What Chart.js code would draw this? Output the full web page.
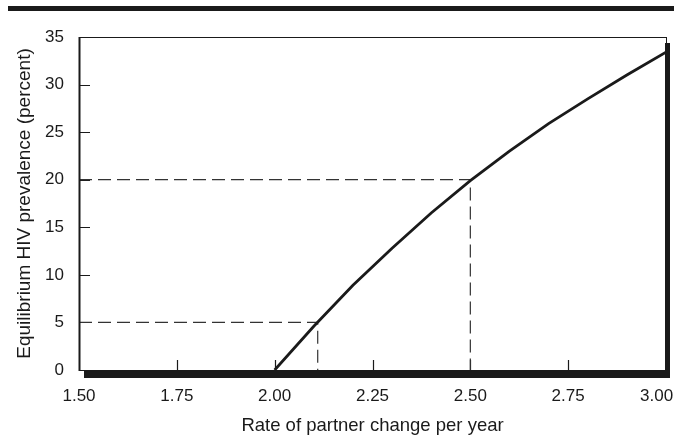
<!DOCTYPE html>
<html>
<head>
<meta charset="utf-8">
<script src="https://cdn.jsdelivr.net/npm/chart.js@4.4.1/dist/chart.umd.min.js"></script>
<style>
  html, body { margin: 0; padding: 0; background: #fff; }
  #wrap { width: 674px; height: 448px; }
</style>
</head>
<body>
<div id="wrap"><canvas id="chart" width="674" height="448"></canvas></div>
<script>
// equilibrium prevalence curve
const rates = [2.0, 2.1, 2.2, 2.3, 2.4, 2.5, 2.6, 2.7, 2.8, 2.9, 3.0];
const prevalence = [0, 4.6, 8.9, 12.8, 16.5, 19.9, 23.0, 25.9, 28.5, 31.0, 33.4];

// dashed reference lines (rate, prevalence)
const refLow = [[1.5, 5], [2.11, 5], [2.11, 0]];
const refHigh = [[1.5, 20], [2.5, 20], [2.5, 0]];

const xTicks = ['1.50', '1.75', '2.00', '2.25', '2.50', '2.75', '3.00'];
const yTicks = [0, 5, 10, 15, 20, 25, 30, 35];

const ink = '#1a1a1a';
const font = "'Liberation Sans', Arial, Helvetica, sans-serif";

const toPts = arr => arr.map(p => ({ x: p[0], y: p[1] }));

// box, thick offset edges, inward tick marks, banner rule
const frame = {
  id: 'frame',
  beforeDatasetsDraw(chart) {
    const { ctx, chartArea: a, scales } = chart;
    ctx.save();
    ctx.strokeStyle = ink;
    ctx.lineWidth = 1.2;
    // inner ticks
    ctx.beginPath();
    scales.y.ticks.forEach(t => {
      if (t.value <= 0 || t.value >= 35) return;
      const y = Math.round(scales.y.getPixelForValue(t.value)) + 0.5;
      ctx.moveTo(a.left, y);
      ctx.lineTo(a.left + 11, y);
    });
    scales.x.ticks.forEach(t => {
      if (t.value <= 1.5 || t.value >= 3) return;
      const x = Math.round(scales.x.getPixelForValue(t.value)) + 0.5;
      ctx.moveTo(x, a.bottom);
      ctx.lineTo(x, a.bottom - 10);
    });
    ctx.stroke();
    ctx.restore();
  },
  afterDraw(chart) {
    const { ctx, chartArea: a } = chart;
    ctx.save();
    ctx.strokeStyle = ink;
    // thin box
    ctx.lineWidth = 1;
    ctx.strokeRect(a.left + 0.5, a.top + 0.5, a.right - a.left, a.bottom - a.top);
    ctx.lineWidth = 2;
    ctx.beginPath();
    ctx.moveTo(a.left + 0.5, a.top);
    ctx.lineTo(a.left + 0.5, a.bottom + 1);
    ctx.stroke();
    // thick shadow edges
    ctx.fillStyle = ink;
    ctx.fillRect(a.left + 5, a.bottom + 1, a.right - a.left - 1, 7);
    ctx.fillRect(a.right - 1, a.top + 6, 5, a.bottom - a.top + 2);
    // banner rule at top of figure
    ctx.fillRect(8, 6, 666, 5);
    ctx.restore();
  }
};

new Chart(document.getElementById('chart'), {
  type: 'line',
  data: {
    datasets: [
      {
        data: rates.map((r, i) => ({ x: r, y: prevalence[i] })),
        borderColor: ink,
        borderWidth: 2.8,
        pointRadius: 0,
        tension: 0
      },
      {
        data: toPts(refLow),
        borderColor: '#333',
        borderWidth: 1.2,
        borderDash: [13, 6],
        pointRadius: 0
      },
      {
        data: toPts(refHigh),
        borderColor: '#333',
        borderWidth: 1.2,
        borderDash: [13, 6],
        pointRadius: 0
      }
    ]
  },
  options: {
    responsive: false,
    animation: false,
    layout: { padding: { left: 0, right: 8, top: 37, bottom: 0 } },
    plugins: { legend: { display: false }, tooltip: { enabled: false } },
    scales: {
      x: {
        type: 'linear',
        min: 1.5,
        max: 3,
        grid: { display: false, drawTicks: false },
        border: { display: false },
        ticks: {
          stepSize: 0.25,
          padding: 16,
          color: ink,
          font: { family: font, size: 17 },
          maxRotation: 0,
          // last label nudged left so it stays inside the page
          callback: (v, i) => (i === xTicks.length - 1 ? xTicks[i] + '\u2007\u2007' : xTicks[i])
        },
        title: {
          display: true,
          text: 'Rate of partner change per year',
          color: ink,
          font: { family: font, size: 18.5 },
          padding: { top: 0, bottom: 11 }
        },
        afterFit: s => { s.height = 78; s.paddingLeft = 0; s.paddingRight = 0; }
      },
      y: {
        min: 0,
        max: 35,
        grid: { display: false, drawTicks: false },
        border: { display: false },
        ticks: {
          stepSize: 5,
          padding: 15,
          color: ink,
          font: { family: font, size: 17 },
          callback: (v, i) => String(yTicks[i])
        },
        title: {
          display: true,
          text: 'Equilibrium HIV prevalence (percent)',
          color: ink,
          font: { family: font, size: 19 },
          padding: { top: 13, bottom: 0 }
        },
        afterFit: s => { s.width = 79; }
      }
    }
  },
  plugins: [frame]
});
</script>
</body>
</html>
